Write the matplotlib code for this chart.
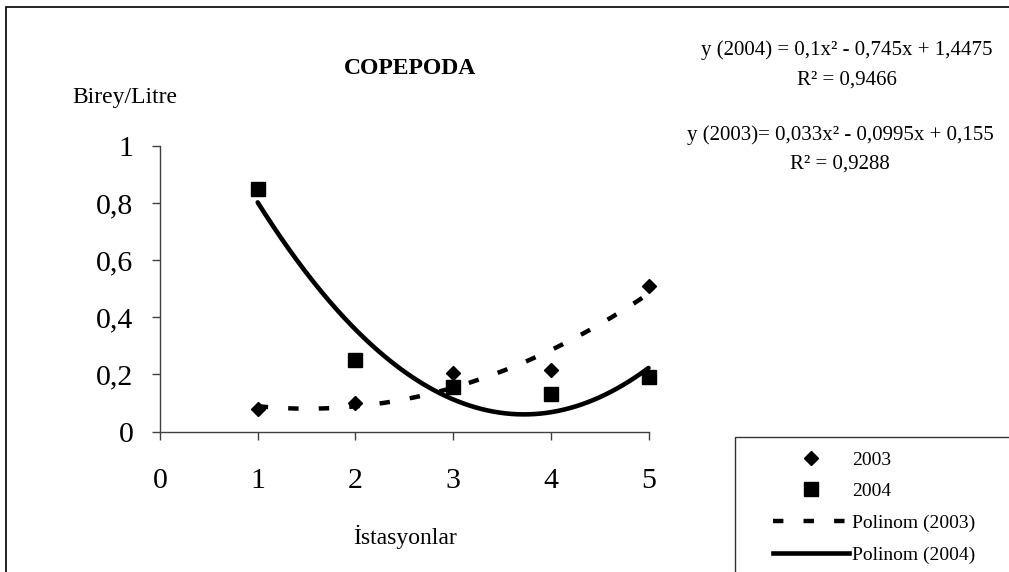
import numpy as np
import matplotlib
matplotlib.use("Agg")
import matplotlib.pyplot as plt
from matplotlib.patches import Rectangle
from matplotlib.lines import Line2D

plt.rcParams['font.family'] = ['Liberation Serif', 'DejaVu Serif']
plt.rcParams['lines.scale_dashes'] = False

# istasyon numaralari ve olculen degerler
stations = [1, 2, 3, 4, 5]
y2003 = [0.08, 0.10, 0.205, 0.215, 0.51]
y2004 = [0.85, 0.25, 0.155, 0.13, 0.19]

# Excel polinom trend katsayilari (grafikteki denklemler)
coef2003 = [0.033, -0.0995, 0.155]
coef2004 = [0.1, -0.745, 1.4475]

W, H = 1009, 572
fig = plt.figure(figsize=(W / 100, H / 100), dpi=100)
ax = fig.add_axes([160 / W, 1 - 431.5 / H, 488.5 / W, 285.5 / H])

xs = np.linspace(stations[0], stations[-1], 200)
ax.plot(xs, np.polyval(coef2003, xs), color='black', lw=3.2,
        dashes=(7.5, 14.5), clip_on=False)
ax.plot(xs, np.polyval(coef2004, xs), color='black', lw=3.3,
        solid_capstyle='round', clip_on=False)
ax.plot(stations, y2003, 'D', color='black', ms=7.2, ls='none', clip_on=False)
ax.plot(stations, y2004, 's', color='black', ms=10, ls='none', clip_on=False)

ax.set_xlim(0, 5)
ax.set_ylim(0, 1)
ax.set_xticks(range(6))
ax.set_yticks([0, 0.2, 0.4, 0.6, 0.8, 1])
ax.set_yticklabels(['0', '0,2', '0,4', '0,6', '0,8', '1'])
ax.tick_params(axis='both', direction='out', length=6, width=1,
               color='#404040', labelsize=21.5)
ax.tick_params(axis='x', pad=20)
ax.tick_params(axis='y', pad=13)
for s in ['top', 'right']:
    ax.spines[s].set_visible(False)
for s in ['left', 'bottom']:
    ax.spines[s].set_color('#404040')
    ax.spines[s].set_linewidth(1)

fig.text(72 / W, 1 - 97 / H, 'Birey/Litre', fontsize=17, va='center', ha='left')
fig.text(410 / W, 1 - 68 / H, 'COPEPODA', fontsize=17, weight='bold',
         va='center', ha='center')
fig.text(405 / W, 1 - 537 / H, 'İstasyonlar', fontsize=17, va='center', ha='center')

fig.text(847 / W, 1 - 50 / H, 'y (2004) = 0,1x² - 0,745x + 1,4475', fontsize=15,
         va='center', ha='center')
fig.text(847 / W, 1 - 80 / H, 'R² = 0,9466', fontsize=15, va='center', ha='center')
fig.text(840 / W, 1 - 135 / H, 'y (2003)= 0,033x² - 0,0995x + 0,155', fontsize=15,
         va='center', ha='center')
fig.text(840 / W, 1 - 164 / H, 'R² = 0,9288', fontsize=15, va='center', ha='center')

# lejant
handles = [
    Line2D([], [], marker='D', color='black', ms=7.2, ls='none'),
    Line2D([], [], marker='s', color='black', ms=10, ls='none'),
    Line2D([], [], color='black', lw=3.2, dashes=(7.5, 14.5)),
    Line2D([], [], color='black', lw=3.3),
]
labels = ['2003', '2004', 'Polinom (2003)', 'Polinom (2004)']
fig.legend(handles, labels, loc='upper left', bbox_to_anchor=(773 / W, 1 - 451 / H),
           frameon=False, fontsize=14, handlelength=3.9, handletextpad=0.15,
           borderpad=0, borderaxespad=0, labelspacing=0.72, numpoints=1)
fig.patches.append(Rectangle((735 / W, -0.1), 0.5, 0.1 + (H - 437) / H,
                             transform=fig.transFigure, fill=False,
                             edgecolor='#333333', lw=1))

# cerceve
fig.patches.append(Rectangle((6 / W, -0.1), 1.2, 0.1 + (H - 7) / H,
                             transform=fig.transFigure, fill=False,
                             edgecolor='black', lw=1.2))

fig.savefig('out.png', dpi=100)
